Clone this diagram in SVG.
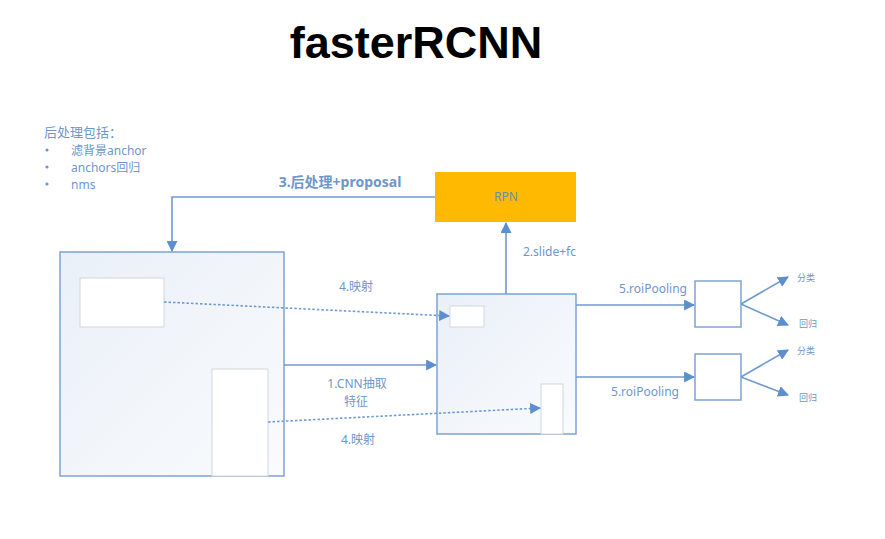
<svg xmlns="http://www.w3.org/2000/svg" width="885" height="539" viewBox="0 0 885 539">
<style>
.ln{stroke:#6f9ad0;stroke-width:1.6;fill:none}
.dot{stroke:#6f9ad0;stroke-width:1.6;fill:none;stroke-dasharray:2.5 2}
.box{stroke:#7ea2d2;stroke-width:1.5}
.sub{fill:#ffffff;stroke:#d2d6dc;stroke-width:1}
.t{font-family:"Noto Sans","Noto Sans CJK SC",sans-serif;fill:#6e96cc;font-size:12px}
.s{font-family:"Noto Sans","Noto Sans CJK SC",sans-serif;fill:#6e96cc;font-size:9px}
</style>
<defs>
<marker id="ah" viewBox="0 0 10 10" refX="9" refY="5" markerWidth="11" markerHeight="11" markerUnits="userSpaceOnUse" orient="auto">
<path d="M0,0 L10,5 L0,10 Z" fill="#5b8fd0"/>
</marker>
<linearGradient id="g" x1="0" y1="0" x2="1" y2="1">
<stop offset="0" stop-color="#eaf0f8"/>
<stop offset="1" stop-color="#f9fbfd"/>
</linearGradient>
</defs>
<rect width="885" height="539" fill="#ffffff"/>
<text x="416" y="58" text-anchor="middle" font-family="Liberation Sans, sans-serif" font-weight="bold" font-size="45" fill="#000000">fasterRCNN</text>
<g id="notes">
<text class="t" x="44" y="137" style="font-size:13px">后处理包括：</text>
<circle cx="47" cy="150" r="1.6" fill="#6e96cc"/>
<circle cx="47" cy="167" r="1.6" fill="#6e96cc"/>
<circle cx="47" cy="184" r="1.6" fill="#6e96cc"/>
<text class="t" x="71" y="155">滤背景anchor</text>
<text class="t" x="71" y="172">anchors回归</text>
<text class="t" x="71" y="189">nms</text>
</g>
<g id="image">
<rect class="box" x="60" y="252" width="224" height="224" fill="url(#g)"/>
<rect class="sub" x="80" y="278" width="84" height="49"/>
<rect class="sub" x="212" y="369" width="56" height="107"/>
</g>
<g id="featuremap">
<rect class="box" x="437" y="294" width="139" height="140" fill="url(#g)"/>
<rect class="sub" x="450" y="306" width="34" height="21"/>
<rect class="sub" x="541" y="384" width="22" height="50"/>
</g>
<g id="rpn">
<rect x="435" y="172" width="141" height="50" fill="#ffb900"/>
<text x="506" y="201" text-anchor="middle" font-family="Noto Sans, sans-serif" font-size="12" fill="#6a8db0">RPN</text>
</g>
<g id="pool1"><rect class="box" x="695" y="281" width="46" height="46" fill="#ffffff"/></g>
<g id="pool2"><rect class="box" x="695" y="354" width="46" height="46" fill="#ffffff"/></g>
<g id="connectors">
<polyline class="ln" points="435,197 172,197 172,251" marker-end="url(#ah)"/>
<line class="ln" x1="506" y1="294" x2="506" y2="223" marker-end="url(#ah)"/>
<line class="ln" x1="284" y1="365" x2="436" y2="365" marker-end="url(#ah)"/>
<line class="dot" x1="164" y1="302" x2="449" y2="316" marker-end="url(#ah)"/>
<line class="dot" x1="268" y1="422" x2="540" y2="408" marker-end="url(#ah)"/>
<line class="ln" x1="576" y1="305" x2="694" y2="305" marker-end="url(#ah)"/>
<line class="ln" x1="576" y1="377" x2="694" y2="377" marker-end="url(#ah)"/>
<line class="ln" x1="741" y1="304" x2="788" y2="277" marker-end="url(#ah)"/>
<line class="ln" x1="741" y1="304" x2="788" y2="325" marker-end="url(#ah)"/>
<line class="ln" x1="741" y1="377" x2="788" y2="350" marker-end="url(#ah)"/>
<line class="ln" x1="741" y1="377" x2="788" y2="395" marker-end="url(#ah)"/>
</g>
<g id="labels">
<text class="t" x="340" y="187" text-anchor="middle" style="font-size:14px;font-weight:bold">3.后处理+proposal</text>
<text class="t" x="523" y="256">2.slide+fc</text>
<text class="t" x="356" y="291" text-anchor="middle">4.映射</text>
<text class="t" x="357" y="388" text-anchor="middle">1.CNN抽取</text>
<text class="t" x="356" y="406" text-anchor="middle">特征</text>
<text class="t" x="358" y="444" text-anchor="middle">4.映射</text>
<text class="t" x="653" y="293" text-anchor="middle">5.roiPooling</text>
<text class="t" x="645" y="396" text-anchor="middle">5.roiPooling</text>
<text class="s" x="797" y="281">分类</text>
<text class="s" x="799" y="327">回归</text>
<text class="s" x="797" y="354">分类</text>
<text class="s" x="799" y="401">回归</text>
</g>
</svg>
